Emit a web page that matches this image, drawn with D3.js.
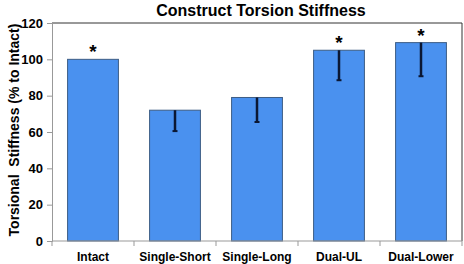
<!DOCTYPE html>
<html>
<head>
<meta charset="utf-8">
<script src="https://cdn.jsdelivr.net/npm/d3@7"></script>
<style>
  body { margin: 0; background: #fff; }
  text { font-family: "Liberation Sans", Arial, sans-serif; font-weight: bold; fill: #000; }
</style>
</head>
<body>
<svg id="chart"></svg>
<script>
// Chart data
const categories = ["Intact", "Single-Short", "Single-Long", "Dual-UL", "Dual-Lower"];
const stiffness = [100, 72, 79, 105, 109.2];
const errorLow = [100, 60.5, 65.5, 88.5, 90.7];
const significant = [true, false, false, true, true];
const yTicks = [0, 20, 40, 60, 80, 100, 120];

const margin = {top: 23, right: 2, bottom: 23, left: 52},
    width = 464 - margin.left - margin.right,
    height = 264 - margin.top - margin.bottom;

const svg = d3.select("#chart")
    .attr("width", width + margin.left + margin.right)
    .attr("height", height + margin.top + margin.bottom)
    .append("g")
    .attr("transform", `translate(${margin.left},${margin.top})`);

const data = categories.map((c, i) => ({cat: c, value: stiffness[i], low: errorLow[i], star: significant[i]}));

const x = d3.scaleBand()
    .domain(categories)
    .range([0, width])
    .paddingInner(0.38)
    .paddingOuter(0.19);

const y = d3.scaleLinear()
    .domain([0, 120])
    .range([height, 0]);

// frame on top and right
svg.append("path")
    .attr("d", `M0,0H${width}V${height}`)
    .attr("fill", "none")
    .attr("stroke", "#333")
    .attr("stroke-width", 1);

// bars
svg.selectAll(".bar")
    .data(data)
    .enter().append("rect")
    .attr("class", "bar")
    .attr("x", d => x(d.cat))
    .attr("y", d => y(d.value))
    .attr("width", x.bandwidth())
    .attr("height", d => height - y(d.value))
    .attr("fill", "#4a91ef")
    .attr("stroke", "#3d5d85")
    .attr("stroke-width", 1);

// error bars (lower side only)
const errs = data.filter(d => d.low < d.value);
svg.selectAll(".err")
    .data(errs)
    .enter().append("line")
    .attr("class", "err")
    .attr("x1", d => x(d.cat) + x.bandwidth() / 2)
    .attr("x2", d => x(d.cat) + x.bandwidth() / 2)
    .attr("y1", d => y(d.value))
    .attr("y2", d => y(d.low))
    .attr("stroke", "#0b1733")
    .attr("stroke-width", 2.5);
svg.selectAll(".cap")
    .data(errs)
    .enter().append("line")
    .attr("class", "cap")
    .attr("x1", d => x(d.cat) + x.bandwidth() / 2 - 2.5)
    .attr("x2", d => x(d.cat) + x.bandwidth() / 2 + 2.5)
    .attr("y1", d => y(d.low))
    .attr("y2", d => y(d.low))
    .attr("stroke", "#0b1733")
    .attr("stroke-width", 2);

// significance stars
svg.selectAll(".star")
    .data(data.filter(d => d.star))
    .enter().append("text")
    .attr("class", "star")
    .attr("x", d => x(d.cat) + x.bandwidth() / 2)
    .attr("y", d => y(d.value) - 1)
    .attr("text-anchor", "middle")
    .style("font-size", "19px")
    .text("*");

// y axis
const yAxis = svg.append("g")
    .call(d3.axisLeft(y).tickValues(yTicks).tickSize(5).tickPadding(4));
yAxis.select(".domain").attr("stroke", "#999");
yAxis.selectAll(".tick line").attr("stroke", "#999");
yAxis.selectAll("text").style("font-size", "13px");

// x axis with ticks between categories
const xAxis = svg.append("g")
    .attr("transform", `translate(0,${height})`);
xAxis.append("line")
    .attr("x1", 0).attr("x2", width)
    .attr("stroke", "#999");
xAxis.selectAll(".xt")
    .data(d3.range(categories.length + 1))
    .enter().append("line")
    .attr("x1", i => i * x.step() + x.step() * x.paddingOuter() - x.step() * x.paddingInner() / 2)
    .attr("x2", i => i * x.step() + x.step() * x.paddingOuter() - x.step() * x.paddingInner() / 2)
    .attr("y1", 0).attr("y2", 5)
    .attr("stroke", "#999");
xAxis.selectAll(".xl")
    .data(categories)
    .enter().append("text")
    .attr("x", d => x(d) + x.bandwidth() / 2)
    .attr("y", 20)
    .attr("text-anchor", "middle")
    .style("font-size", "12px")
    .text(d => d);

// title
svg.append("text")
    .attr("x", 209)
    .attr("y", -7)
    .attr("text-anchor", "middle")
    .style("font-size", "16px")
    .text("Construct Torsion Stiffness");

// y label
svg.append("text")
    .attr("transform", "rotate(-90)")
    .attr("x", -height / 2 + 2)
    .attr("y", -33)
    .attr("text-anchor", "middle")
    .style("font-size", "14px")
    .style("white-space", "pre")
    .attr("xml:space", "preserve")
    .text("Torsional  Stiffness (% to Intact)");
</script>
</body>
</html>
